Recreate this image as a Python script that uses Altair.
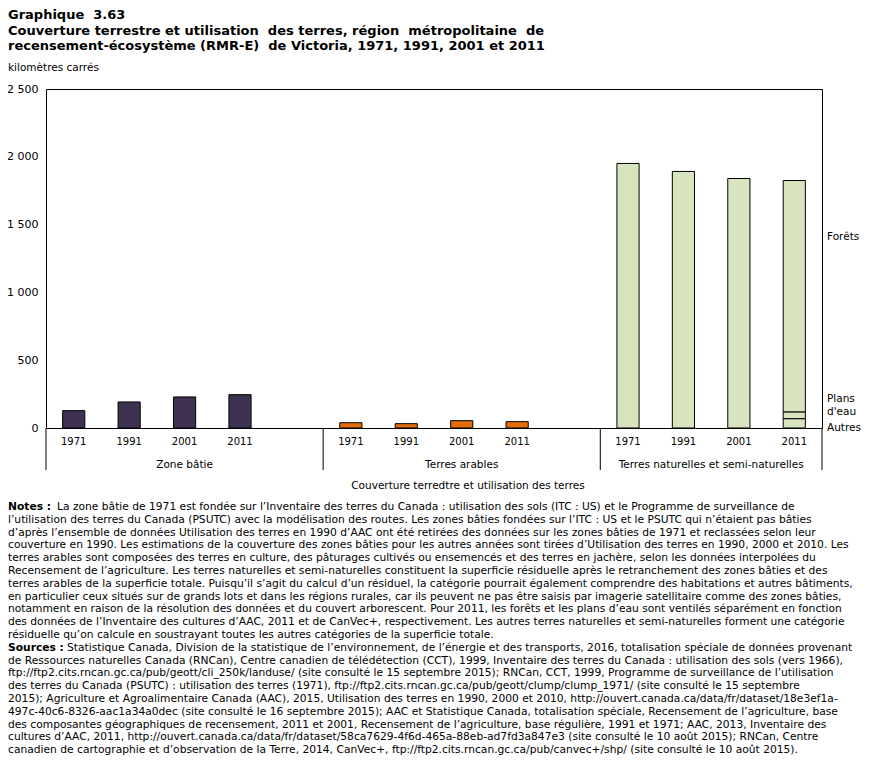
import altair as alt
import pandas as pd

# ---------------- data ----------------
title_lines = [
    "Graphique \u00a03.63",
    "Couverture terrestre et utilisation \u00a0des terres, région \u00a0métropolitaine \u00a0de",
    "recensement-écosystème (RMR-E) \u00a0de Victoria, 1971, 1991, 2001 et 2011",
]
y_unit = "kilomètres carrés"
x_title = "Couverture terredtre et utilisation des terres"

groups = ["Zone bâtie", "Terres arables", "Terres naturelles et semi-naturelles"]
years = ["1971", "1991", "2001", "2011"]
zone_batie = [128, 192, 229, 246]
terres_arables = [39, 32, 54, 47]
terres_naturelles = [1951, 1892, 1840]          # 1971, 1991, 2001
nat_2011_segments = ["Autres", "Plans d'eau", "Forêts"]
nat_2011_values = [69, 50, 1706]
group_colors = ["#3f3151", "#e46c0a", "#d7e4bd"]
y_ticks = [0, 500, 1000, 1500, 2000, 2500]

notes_head = "Notes :"
notes_first = "La zone bâtie de 1971 est fondée sur l’Inventaire des terres du Canada : utilisation des sols (ITC : US) et le Programme de surveillance de"
notes_rest = [
    "l’utilisation des terres du Canada (PSUTC) avec la modélisation des routes. Les zones bâties fondées sur l’ITC : US et le PSUTC qui n’étaient pas bâties",
    "d’après l’ensemble de données Utilisation des terres en 1990 d’AAC ont été retirées des données sur les zones bâties de 1971 et reclassées selon leur",
    "couverture en 1990. Les estimations de la couverture des zones bâties pour les autres années sont tirées d’Utilisation des terres en 1990, 2000 et 2010. Les",
    "terres arables sont composées des terres en culture, des pâturages cultivés ou ensemencés et des terres en jachère, selon les données interpolées du",
    "Recensement de l’agriculture. Les terres naturelles et semi-naturelles constituent la superficie résiduelle après le retranchement des zones bâties et des",
    "terres arables de la superficie totale. Puisqu’il s’agit du calcul d’un résiduel, la catégorie pourrait également comprendre des habitations et autres bâtiments,",
    "en particulier ceux situés sur de grands lots et dans les régions rurales, car ils peuvent ne pas être saisis par imagerie satellitaire comme des zones bâties,",
    "notamment en raison de la résolution des données et du couvert arborescent. Pour 2011, les forêts et les plans d’eau sont ventilés séparément en fonction",
    "des données de l’Inventaire des cultures d’AAC, 2011 et de CanVec+, respectivement. Les autres terres naturelles et semi-naturelles forment une catégorie",
    "résiduelle qu’on calcule en soustrayant toutes les autres catégories de la superficie totale.",
]
sources_head = "Sources :"
sources_first = "Statistique Canada, Division de la statistique de l’environnement, de l’énergie et des transports, 2016, totalisation spéciale de données provenant"
sources_rest = [
    "de Ressources naturelles Canada (RNCan), Centre canadien de télédétection (CCT), 1999, Inventaire des terres du Canada : utilisation des sols (vers 1966),",
    "ftp://ftp2.cits.rncan.gc.ca/pub/geott/cli_250k/landuse/ (site consulté le 15 septembre 2015); RNCan, CCT, 1999, Programme de surveillance de l’utilisation",
    "des terres du Canada (PSUTC) : utilisation des terres (1971), ftp://ftp2.cits.rncan.gc.ca/pub/geott/clump/clump_1971/ (site consulté le 15 septembre",
    "2015); Agriculture et Agroalimentaire Canada (AAC), 2015, Utilisation des terres en 1990, 2000 et 2010, http://ouvert.canada.ca/data/fr/dataset/18e3ef1a-",
    "497c-40c6-8326-aac1a34a0dec (site consulté le 16 septembre 2015); AAC et Statistique Canada, totalisation spéciale, Recensement de l’agriculture, base",
    "des composantes géographiques de recensement, 2011 et 2001, Recensement de l’agriculture, base régulière, 1991 et 1971; AAC, 2013, Inventaire des",
    "cultures d’AAC, 2011, http://ouvert.canada.ca/data/fr/dataset/58ca7629-4f6d-465a-88eb-ad7fd3a847e3 (site consulté le 10 août 2015); RNCan, Centre",
    "canadien de cartographie et d’observation de la Terre, 2014, CanVec+, ftp://ftp2.cits.rncan.gc.ca/pub/canvec+/shp/ (site consulté le 10 août 2015).",
]

# ---------------- table ----------------
rows = []
domain = []
for gi, (g, vals) in enumerate(zip(groups, [zone_batie, terres_arables, terres_naturelles])):
    for yi, yr in enumerate(years):
        k = f"{g}|{yr}"
        domain.append(k)
        if gi == 2 and yr == "2011":
            for si, (s, v) in enumerate(zip(nat_2011_segments, nat_2011_values)):
                rows.append({"k": k, "g": g, "seg": s, "o": si, "v": v})
        else:
            rows.append({"k": k, "g": g, "seg": "Total", "o": 0, "v": vals[yi]})
    if gi < 2:
        domain.append(f"vide{gi}|")
df = pd.DataFrame(rows)

W, H = 776, 339
step = W / len(domain)
FONT = "DejaVu Sans"
NFONT = "DejaVu Sans"

bars = alt.Chart(df).mark_bar(stroke="black", strokeWidth=1).encode(
    x=alt.X("k:N",
            scale=alt.Scale(domain=domain, paddingInner=0.6, paddingOuter=0.3),
            axis=alt.Axis(title=None, labelExpr="split(datum.value, '|')[1]", ticks=False,
                          domain=False, labelPadding=8, labelAngle=0, labelFont=FONT,
                          labelFontSize=10, labelColor="black", labelOverlap=False)),
    y=alt.Y("v:Q", stack="zero",
            scale=alt.Scale(domain=[0, 2500], nice=False),
            axis=alt.Axis(title=None, values=y_ticks,
                          labelExpr="replace(format(datum.value, ','), ',', ' ')",
                          ticks=False, domain=False, grid=False, labelPadding=8,
                          labelFont=FONT, labelFontSize=11, labelColor="black")),
    color=alt.Color("g:N", scale=alt.Scale(domain=groups, range=group_colors), legend=None),
    detail="seg:N",
    order=alt.Order("o:Q"),
)

one = alt.Data(values=[{}])
layers = [bars]

# extension lines below the axis (frame and group separators)
for xs in [0, 5 * step, 10 * step, W]:
    layers.append(alt.Chart(one).mark_rule(color="black", strokeWidth=1).encode(
        x=alt.value(xs), y=alt.value(H), y2=alt.value(H + 42)))

# group labels
group_centers = [2.5 * step, 7.5 * step, 12 * step]
for g, cx in zip(groups, group_centers):
    layers.append(alt.Chart(one).mark_text(font=FONT, fontSize=10.5, color="black",
                                           baseline="middle", align="center").encode(
        x=alt.value(cx), y=alt.value(H + 37), text=alt.value(g)))

# x title
layers.append(alt.Chart(one).mark_text(font=FONT, fontSize=10.5, color="black",
                                       baseline="middle", align="center").encode(
    x=alt.value(422), y=alt.value(H + 58), text=alt.value(x_title)))

# right-hand segment labels
right_labels = [("Forêts", 148), ("Plans", 310), ("d'eau", 323), ("Autres", 339)]
for t, yy in right_labels:
    layers.append(alt.Chart(one).mark_text(font=FONT, fontSize=10.5, color="black",
                                           baseline="middle", align="left").encode(
        x=alt.value(W + 5), y=alt.value(yy), text=alt.value(t)))

# title + unit
layers.append(alt.Chart(one).mark_text(font=FONT, fontSize=13, fontWeight="bold", color="black",
                                       baseline="alphabetic", align="left", lineHeight=15.5).encode(
    x=alt.value(-38), y=alt.value(-70), text=alt.value(title_lines)))
layers.append(alt.Chart(one).mark_text(font=FONT, fontSize=10.5, color="black",
                                       baseline="alphabetic", align="left").encode(
    x=alt.value(-38), y=alt.value(-18), text=alt.value(y_unit)))

# notes & sources
LH = 12.8
NFS = 10.7
ny0 = 510 - 89
layers.append(alt.Chart(one).mark_text(font=NFONT, fontSize=NFS, fontWeight="bold", color="black",
                                       baseline="alphabetic", align="left").encode(
    x=alt.value(-38), y=alt.value(ny0), text=alt.value(notes_head)))
layers.append(alt.Chart(one).mark_text(font=NFONT, fontSize=NFS, color="black",
                                       baseline="alphabetic", align="left").encode(
    x=alt.value(11), y=alt.value(ny0), text=alt.value(notes_first)))
layers.append(alt.Chart(one).mark_text(font=NFONT, fontSize=NFS, color="black",
                                       baseline="alphabetic", align="left", lineHeight=LH).encode(
    x=alt.value(-38), y=alt.value(ny0 + LH), text=alt.value(notes_rest)))
sy0 = ny0 + LH * (1 + len(notes_rest))
layers.append(alt.Chart(one).mark_text(font=NFONT, fontSize=NFS, fontWeight="bold", color="black",
                                       baseline="alphabetic", align="left").encode(
    x=alt.value(-38), y=alt.value(sy0), text=alt.value(sources_head)))
layers.append(alt.Chart(one).mark_text(font=NFONT, fontSize=NFS, color="black",
                                       baseline="alphabetic", align="left").encode(
    x=alt.value(21), y=alt.value(sy0), text=alt.value(sources_first)))
layers.append(alt.Chart(one).mark_text(font=NFONT, fontSize=NFS, color="black",
                                       baseline="alphabetic", align="left", lineHeight=LH).encode(
    x=alt.value(-38), y=alt.value(sy0 + LH), text=alt.value(sources_rest)))

chart = alt.layer(*layers).properties(
    width=W, height=H,
    autosize=alt.AutoSizeParams(type="none"),
    padding={"left": 38, "top": 81, "right": 41, "bottom": 327},
).configure(background="white").configure_view(stroke="black", strokeWidth=1)

chart.save("out.html", embed_options={"renderer": "svg", "actions": False})
